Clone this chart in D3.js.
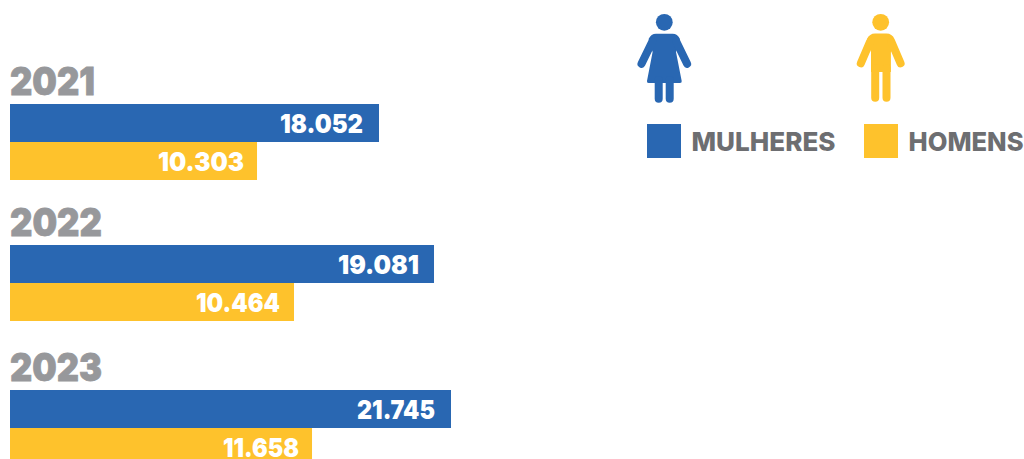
<!DOCTYPE html>
<html><head><meta charset="utf-8">
<script src="https://cdn.jsdelivr.net/npm/d3@7"></script>
<style>html,body{margin:0;padding:0;background:#fff;overflow:hidden}svg{display:block}text{font-family:Inter,"Noto Sans",sans-serif;font-weight:900}</style>
</head><body><svg id="c" width="1024" height="459"></svg>
<script>
const years = ["2021", "2022", "2023"];
// Printed figures
const womenLabels = ["18.052", "19.081", "21.745"];
const menLabels = ["10.303", "10.464", "11.658"];
// The reference's bars are not drawn to the printed figures, so their lengths
// are read separately, expressed on the scale where the longest bar = 21745.
const womenBar = [18195, 20907, 21745];
const menBar = [12180, 14004, 14892];
const seriesNames = ["MULHERES", "HOMENS"];
const BLUE = "#2967b2", YELLOW = "#fec22c", GREY = "#97989b", DARK = "#6d6e71";

const svg = d3.select("#c");
const x = d3.scaleLinear().domain([0, 21745]).range([10, 451]);
const groupTop = d3.scaleOrdinal().domain(years).range([104, 245, 390]);
const barH = 38;

// Fits a label to a target width while keeping real text
function fit(sel, w){ return sel.attr("textLength", w).attr("lengthAdjust", "spacingAndGlyphs"); }

const yearW = d3.scaleOrdinal().domain(years).range([85, 92, 92]);
const g = svg.selectAll("g.year").data(years).join("g").attr("class", "year");
fit(g.append("text").attr("x", 10).attr("y", d => groupTop(d) - 9)
  .attr("font-size", 38).attr("fill", GREY).attr("stroke", GREY).attr("stroke-width", 0.8).text(d => d), yearW);

[[womenBar, womenLabels, BLUE, 0, [16, 15, 16], [83, 81, 78]],
 [menBar, menLabels, YELLOW, 1, [13, 14, 13], [86, 84, 76]]].forEach(([vals, labs, col, k, pads, widths]) => {
  svg.append("g").selectAll("rect").data(years).join("rect")
    .attr("x", x(0)).attr("y", d => groupTop(d) + k * barH)
    .attr("width", (d, i) => x(vals[i]) - x(0)).attr("height", barH).attr("fill", col);
  fit(svg.append("g").selectAll("text").data(years).join("text")
    .attr("x", (d, i) => x(vals[i]) - pads[i]).attr("y", d => groupTop(d) + k * barH + barH / 2 + 9.5)
    .attr("text-anchor", "end").attr("font-size", 26).attr("fill", "#fff")
    .text((d, i) => labs[i]), (d, i) => widths[i]);
});

// Legend
const legendX = d3.scaleOrdinal().domain(seriesNames).range([647, 864]);
const legendW = d3.scaleOrdinal().domain(seriesNames).range([144, 115]);
const lg = svg.selectAll("g.leg").data(seriesNames).join("g").attr("class", "leg");
lg.append("rect").attr("x", d => legendX(d)).attr("y", 124).attr("width", 34).attr("height", 34)
  .attr("fill", (d, i) => i ? YELLOW : BLUE);
lg.each(function(d){
  fit(d3.select(this).append("text").attr("x", legendX(d) + 44.5).attr("y", 151)
    .attr("font-size", 26).attr("fill", DARK).style("font-weight", 800).text(d), legendW(d));
});

// Pictograms
const limb = (sel, col, d, w) => sel.append("path").attr("d", d).attr("fill", "none")
  .attr("stroke", col).attr("stroke-width", w).attr("stroke-linecap", "round");

const woman = svg.append("g").attr("fill", BLUE);
woman.append("circle").attr("cx", 664.3).attr("cy", 22.3).attr("r", 8.4);
woman.append("path").attr("d", "M656 33.8 H672.6 Q677.5 33.8 680 39 L676 52 L681.7 81 Q682 83 680 83 H648.6 Q646.6 83 647 81 L652.6 52 L648.6 39 Q651.1 33.8 656 33.8Z");
limb(woman, BLUE, "M652.2 41.8 L641.5 63.8 M676.4 41.8 L687.1 63.8", 8);
limb(woman, BLUE, "M658.7 80 V98.7 M669.7 80 V98.7", 8);

const man = svg.append("g").attr("fill", YELLOW);
man.append("circle").attr("cx", 880.7).attr("cy", 22.3).attr("r", 8.4);
man.append("path").attr("d", "M875 33.5 H886.5 Q892 33.5 894.5 39 L890.9 52 V72 H871 V52 L867 39 Q869.5 33.5 875 33.5Z");
limb(man, YELLOW, "M870.1 41.6 L860.8 63.3 M891.3 41.6 L900.6 63.3", 8);
limb(man, YELLOW, "M875.2 68 V97.7 M886.5 68 V97.7", 8);
</script></body></html>
